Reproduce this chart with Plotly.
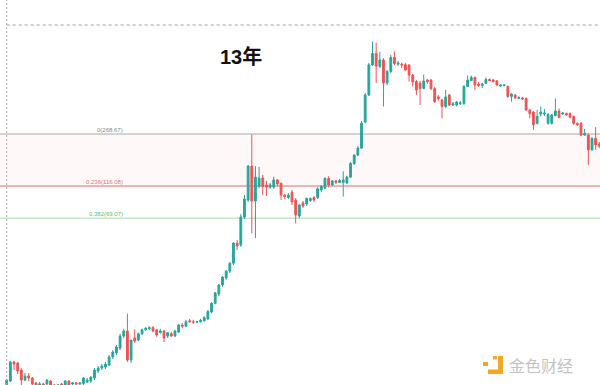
import math
import pandas as pd
import plotly.graph_objects as go

# Weekly candles (price in USD)
first_week = "2011-12-26"

open_ = [4.47, 4.99, 6.79, 6.68, 5.96, 5.07, 5.41, 5.24, 4.84, 4.68,
         4.76, 4.76, 4.99, 4.68, 4.61, 4.76, 4.68, 4.99, 4.76, 4.84,
         4.76, 4.80, 4.91, 4.99, 5.24, 5.87, 6.15, 6.25, 6.46, 7.36,
         7.85, 8.50, 10.3, 11.2, 7.01, 10.0, 9.67, 10.7, 11.4, 11.6,
         11.8, 11.4, 10.9, 11.2, 10.3, 10.7, 10.3, 11.0, 12.3, 12.1,
         13.2, 13.0, 12.9, 13.0, 13.2, 13.6, 15.2, 17.5, 20.3, 23.5,
         26.3, 29.4, 33.4, 46.2, 44.8, 70.3, 92.6, 160, 91.1, 116,
         132, 118, 114, 114, 128, 121, 100.4, 96.5, 105, 92.6,
         71.5, 88.2, 86.8, 91.8, 96.3, 96.3, 109, 112, 131, 118,
         126, 123, 123, 122, 134, 167, 191, 214, 326, 504,
         818, 984, 800, 887, 612, 737, 923, 829, 829, 822,
         818, 696, 626, 612, 559, 642, 642, 559, 489, 465,
         419, 504, 429, 429, 440, 440, 578, 636, 669, 602,
         588, 607, 647, 642, 632, 583, 588, 578, 493, 504,
         476, 481, 476, 396, 383, 319, 371, 371, 319, 319,
         362, 389, 371, 374, 374, 357, 319, 319, 264, 264,
         208, 250, 229]

high = [5.15, 6.90, 6.90, 6.79, 6.15, 5.68, 5.68, 5.32, 4.91, 4.91,
        4.84, 5.15, 5.07, 4.76, 4.76, 4.84, 5.07, 5.03, 4.91, 4.91,
        4.91, 5.32, 5.24, 5.41, 6.15, 6.35, 6.56, 6.79, 7.59, 8.23,
        8.92, 10.7, 11.6, 14.8, 9.67, 11.5, 10.9, 11.6, 11.9, 12.1,
        12.1, 11.6, 11.6, 11.4, 11.0, 11.0, 11.4, 12.5, 12.7, 13.4,
        13.6, 13.4, 13.2, 13.6, 14.2, 15.7, 17.8, 21.0, 23.9, 27.1,
        29.9, 34.0, 46.9, 48.6, 73.8, 100.4, 163, 266, 160, 158,
        139, 126, 122, 135, 130, 123, 102, 103.7, 109, 95.6,
        86.8, 91.1, 96.5, 96.5, 98.8, 114, 118, 134, 136, 128,
        128, 130, 147, 137, 171, 194, 221, 331, 521, 845,
        1192, 1173, 1010, 915, 755, 961, 1018, 873, 851, 845,
        829, 707, 642, 632, 701, 653, 653, 573, 504, 473,
        546, 512, 450, 458, 458, 592, 690, 690, 680, 622,
        612, 669, 658, 653, 642, 602, 602, 588, 521, 512,
        493, 489, 485, 402, 389, 396, 419, 402, 377, 371,
        476, 406, 383, 380, 380, 362, 324, 326, 292, 271,
        256, 300, 236]

low = [4.32, 4.91, 5.96, 5.59, 4.68, 4.99, 4.99, 4.53, 4.47, 4.53,
       4.40, 4.61, 4.53, 4.53, 4.53, 4.61, 4.61, 4.61, 4.68, 4.68,
       4.68, 4.68, 4.84, 4.84, 5.07, 5.68, 5.96, 6.06, 6.35, 7.13,
       7.59, 8.23, 9.99, 6.79, 6.68, 9.2, 9.51, 10.5, 11.2, 11.4,
       11.0, 10.2, 10.7, 9.36, 9.99, 10.2, 10.2, 10.9, 11.7, 11.9,
       12.8, 12.6, 12.8, 12.8, 13.0, 13.4, 14.9, 17.2, 19.7, 22.8,
       25.5, 28.5, 32.4, 41.3, 43.4, 68.2, 89.7, 54.0, 50.2, 112,
       100.4, 98.8, 111, 111, 116, 92.6, 94.1, 94.1, 85.4, 63.5,
       69.2, 81.4, 84.0, 89.7, 89.7, 94.1, 105, 111, 114, 116,
       120, 122, 98.0, 120, 132, 163, 188, 211, 320, 496,
       805, 612, 779, 419, 592, 718, 818, 805, 779, 742,
       626, 578, 504, 429, 555, 602, 546, 443, 458, 346,
       409, 422, 422, 419, 429, 429, 573, 632, 546, 573,
       564, 602, 632, 617, 583, 573, 578, 481, 453, 473,
       473, 465, 389, 346, 287, 313, 357, 360, 313, 313,
       357, 346, 365, 360, 346, 311, 306, 260, 260, 163,
       205, 208, 214]

close = [5.07, 6.79, 6.56, 5.87, 5.07, 5.41, 5.24, 4.76, 4.68, 4.76,
         4.61, 5.07, 4.68, 4.61, 4.68, 4.68, 4.99, 4.68, 4.84, 4.76,
         4.84, 5.24, 5.07, 5.32, 5.96, 6.15, 6.35, 6.56, 7.36, 7.97,
         8.64, 10.3, 11.2, 7.01, 9.67, 9.51, 10.7, 11.4, 11.7, 11.8,
         11.2, 10.5, 11.2, 9.99, 10.9, 10.3, 11.2, 12.3, 12.1, 13.0,
         13.0, 12.9, 13.0, 13.3, 13.9, 15.3, 17.5, 20.7, 23.5, 26.7,
         29.4, 33.4, 46.2, 44.1, 70.3, 94.1, 160, 91.1, 134, 132,
         115, 114, 118, 128, 120, 100.4, 98.0, 100.4, 89.7, 72.7,
         85.4, 84.0, 95.0, 95.0, 92.6, 111, 115, 131, 118, 126,
         123, 127, 128, 134, 167, 191, 214, 320, 504, 818,
         984, 805, 887, 612, 737, 923, 838, 845, 818, 755,
         696, 622, 546, 559, 632, 626, 559, 453, 476, 419,
         489, 429, 436, 450, 443, 578, 642, 669, 592, 588,
         602, 647, 636, 626, 592, 592, 592, 493, 512, 481,
         485, 473, 396, 374, 313, 357, 383, 377, 368, 365,
         389, 352, 377, 365, 352, 319, 313, 264, 271, 208,
         250, 225, 221]

# Fibonacci retracement levels
fib_ratios = ["0", "0.236", "0.382"]
fib_prices = [268.67, 116.08, 69.07]
fib_colors = ["#a8a8a8", "#f6b0b0", "#a9d8a9"]
fib_text_colors = ["#8a8a8a", "#e57373", "#66bb6a"]

title_text = "13年"
watermark_text = "金色财经"

dates = pd.date_range(first_week, periods=len(open_), freq="7D")

W, H = 600, 385
UP, DOWN = "#26a69a", "#ef5350"

fig = go.Figure()
fig.add_trace(go.Candlestick(
    x=dates, open=open_, high=high, low=low, close=close,
    increasing=dict(line=dict(color=UP, width=1), fillcolor=UP),
    decreasing=dict(line=dict(color=DOWN, width=1), fillcolor=DOWN),
    whiskerwidth=0, hoverinfo="skip",
))

# horizontal axis: first candle at 6.7px, spacing 3.658px per week
px_per_week = 3.658
x_first = 6.7
t0 = pd.Timestamp(first_week)
x_lo = t0 + pd.Timedelta(days=7 * (-x_first / px_per_week))
x_hi = t0 + pd.Timedelta(days=7 * ((W - x_first) / px_per_week))

# log price axis
y_lo, y_hi = 0.6703, 3.3682

shapes = []
# shaded band between fib 0 and 0.236
shapes.append(dict(type="rect", xref="paper", x0=0, x1=1, yref="y",
                   y0=fib_prices[1], y1=fib_prices[0],
                   fillcolor="rgba(242,54,69,0.035)", line=dict(width=0), layer="below"))
for p, c, w in zip(fib_prices, fib_colors, [1, 2, 1]):
    shapes.append(dict(type="line", xref="paper", x0=0, x1=1, yref="y", y0=p, y1=p,
                       line=dict(color=c, width=w), layer="below"))
# dotted guide lines
xl = x_first / W
shapes.append(dict(type="line", xref="paper", yref="paper", x0=xl, x1=xl, y0=0, y1=1,
                   line=dict(color="#b0b0b0", width=1, dash="2px,2px")))
shapes.append(dict(type="line", xref="paper", yref="paper", x0=xl, x1=1,
                   y0=1 - 25 / H, y1=1 - 25 / H,
                   line=dict(color="#a0a0a0", width=1, dash="3px,3px")))

# watermark logo (orange mark)
def pr(x0, y0, x1, y1, col):
    return dict(type="rect", xref="paper", yref="paper",
                x0=x0 / W, x1=x1 / W, y0=1 - y1 / H, y1=1 - y0 / H,
                fillcolor=col, line=dict(width=0))
ORANGE = "#f5a623"
shapes += [pr(483, 362, 488, 366, ORANGE),
           pr(498, 356, 503, 374, ORANGE),
           pr(488, 369.5, 503, 374, ORANGE),
           pr(493, 356, 497, 359.5, ORANGE)]

annotations = []
for r, p, tc in zip(fib_ratios, fib_prices, fib_text_colors):
    annotations.append(dict(xref="paper", x=125 / W, xanchor="right",
                            yref="y", y=math.log10(p), yanchor="bottom", yshift=-1,
                            text=f"{r}({p:.2f})", showarrow=False,
                            font=dict(size=6, color=tc, family="Liberation Sans, Arial")))
annotations.append(dict(xref="paper", yref="paper", x=241 / W, y=1 - 57 / H,
                        text=f"<b>{title_text}</b>", showarrow=False,
                        xanchor="center", yanchor="middle",
                        font=dict(size=20, color="#111111",
                                  family="Liberation Sans, Noto Sans CJK SC")))
annotations.append(dict(xref="paper", yref="paper", x=507 / W, y=1 - 365 / H,
                        text=watermark_text, showarrow=False,
                        xanchor="left", yanchor="middle",
                        font=dict(size=16, color="#c4c4c4", family="Noto Sans CJK SC")))

fig.update_layout(
    width=W, height=H, margin=dict(l=0, r=0, t=0, b=0),
    paper_bgcolor="white", plot_bgcolor="white",
    showlegend=False,
    xaxis=dict(visible=False, range=[x_lo, x_hi], rangeslider=dict(visible=False),
               fixedrange=True),
    yaxis=dict(visible=False, type="log", range=[y_lo, y_hi], fixedrange=True),
    shapes=shapes, annotations=annotations,
)

fig.write_html("out.html", config=dict(displayModeBar=False),
               post_script="document.body.style.margin='0';document.body.style.overflow='hidden';")
